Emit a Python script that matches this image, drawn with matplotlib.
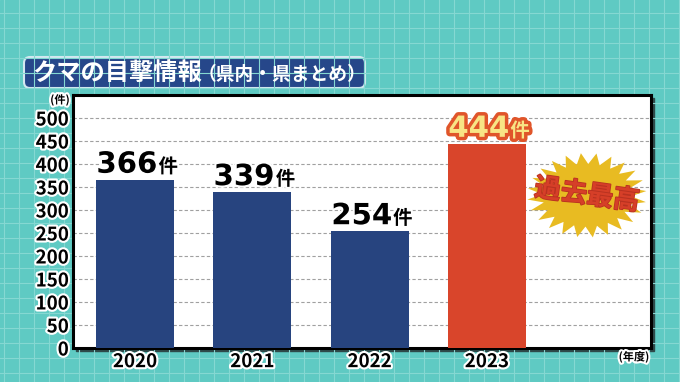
import matplotlib
matplotlib.use('Agg')
import matplotlib.pyplot as plt
import matplotlib.patheffects as pe
from matplotlib.patches import FancyBboxPatch, Rectangle, Polygon
import numpy as np

# data
years = ['2020', '2021', '2022', '2023']
counts = [366, 339, 254, 444]
bar_colors = ['#27447f', '#27447f', '#27447f', '#d9452b']
yticks = list(range(0, 501, 50))

plt.rcParams['font.family'] = ['Noto Sans CJK JP', 'DejaVu Sans']

W, H = 680, 382
fig = plt.figure(figsize=(W / 100, H / 100), dpi=100)

# teal grid-paper background (pixel coords)
bg = fig.add_axes([0, 0, 1, 1], zorder=0)
bg.set_xlim(0, W)
bg.set_ylim(H, 0)
bg.axis('off')
bg.add_patch(Rectangle((0, 0), W, H, color='#5fcac3'))
for gx in np.arange(4, W, 15):
    bg.axvline(gx, color='#85d8d2', lw=0.8)
for gy in np.arange(13, H, 15):
    bg.axhline(gy, color='#85d8d2', lw=0.8)

# title box
bg.add_patch(FancyBboxPatch((24, 57), 341, 31, boxstyle='round,pad=0,rounding_size=6',
                            fc='#26478a', ec='#d3e8f0', lw=1.5))
bg.text(32, 73, 'クマの目撃情報', color='white', fontsize=17.5, fontweight='bold', va='center', ha='left')
bg.text(198, 74, '（県内・県まとめ）', color='white', fontsize=13.5, fontweight='bold', va='center', ha='left')

# frame shadow
bg.add_patch(Rectangle((76, 98), 578, 253, color='#2e4a4a'))

# main chart
ax = fig.add_axes([73 / W, (H - 348) / H, (651 - 73) / W, (348 - 95) / H], zorder=2)
ax.set_facecolor('white')
x = np.arange(len(years))
ax.bar(x, counts, width=0.665, color=bar_colors, zorder=3)
ax.set_xlim(-0.529, 4.40)
ax.set_ylim(0, 550)
ax.set_yticks(yticks)
ax.yaxis.grid(True, ls=(0, (3, 2)), color='#a0a0a0', lw=0.8, zorder=1)
ax.set_axisbelow(True)
for s in ax.spines.values():
    s.set_linewidth(2.2)
    s.set_color('black')

white_edge = [pe.withStroke(linewidth=3, foreground='white')]
ax.set_yticklabels([str(v) for v in yticks], fontsize=13.5, fontweight='bold', path_effects=white_edge)
ax.set_xticks(x)
ax.set_xticklabels(years, fontsize=13.5, fontweight='bold', path_effects=white_edge)
ax.tick_params(length=0, axis='y', pad=3)
ax.tick_params(length=0, axis='x', pad=3)

# value labels
for i, c in enumerate(counts):
    if i == 3:
        fc, ec, lw = '#f8e585', '#e0552a', 5
    else:
        fc, ec, lw = 'black', 'white', 3
    eff = [pe.withStroke(linewidth=lw, foreground=ec)]
    ax.annotate(str(c), (i + 0.19, c), xytext=(0, 5), textcoords='offset points',
                ha='right', va='baseline', fontsize=21, fontweight='bold', color=fc,
                family='DejaVu Sans', path_effects=eff, zorder=5)
    ax.annotate('件', (i + 0.2, c), xytext=(0, 5), textcoords='offset points',
                ha='left', va='baseline', fontsize=14, fontweight='bold', color=fc,
                path_effects=eff, zorder=5)

# starburst badge
cx, cy, rx, ry = 3.853, 332, 0.51, 92
n = 24
ang = np.linspace(0, 2 * np.pi, 2 * n, endpoint=False) + 0.1
rad = np.where(np.arange(2 * n) % 2 == 0, 1.0, 0.74)
star = np.column_stack([cx + rx * rad * np.cos(ang), cy + ry * rad * np.sin(ang)])
ax.add_patch(Polygon(star, closed=True, fc='#e8bb22', ec='none', zorder=4))
ax.text(cx, cy, '過去最高', fontsize=19, fontweight='bold', color='#d63f28', rotation=-8,
        ha='center', va='center', zorder=5,
        path_effects=[pe.withStroke(linewidth=1.2, foreground='#b83220')])

# units
fig.text(60 / W, 1 - 100 / H, '(件)', fontsize=8, fontweight='bold', ha='center', va='center',
         path_effects=white_edge, zorder=5)
fig.text(634 / W, 1 - 357 / H, '(年度)', fontsize=8, fontweight='bold', ha='center', va='center',
         path_effects=white_edge, zorder=5)

fig.savefig('out.png', dpi=100)
